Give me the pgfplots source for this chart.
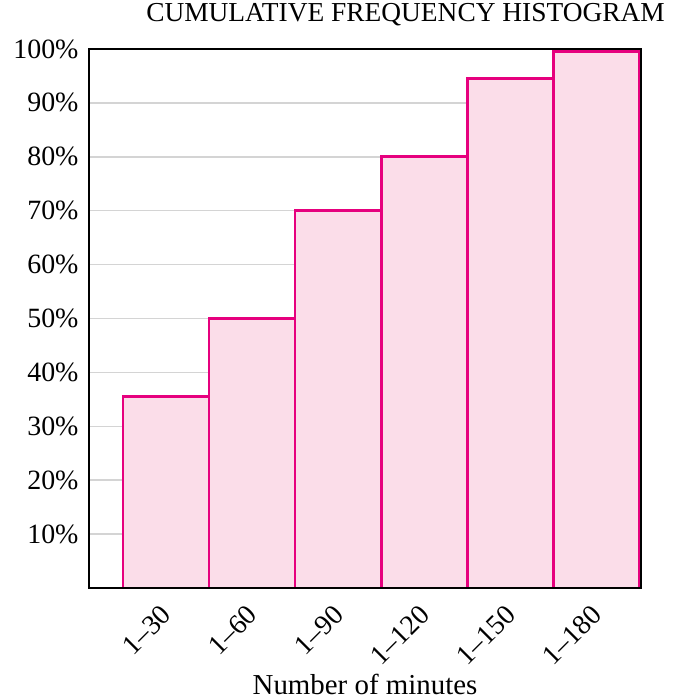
\documentclass[border=0pt]{standalone}
\usepackage{fontspec}
\setmainfont{Liberation Serif}
\usepackage{pgfplots}
\pgfplotsset{compat=1.18}
\definecolor{barline}{RGB}{230,0,126}
\definecolor{barfill}{RGB}{251,221,233}
\definecolor{gridgray}{RGB}{212,212,212}

\begin{document}
\begin{tikzpicture}
% frame the page like the reference (673 x 700)
\path[use as bounding box] (-89bp,-112bp) rectangle (584bp,588bp);
\begin{axis}[
  at={(0,0)}, anchor=south west,
  scale only axis, width=552bp, height=539bp,
  xmin=0.105, xmax=6.52, ymin=0, ymax=100,
  axis line style={black, line width=1.6bp},
  ytick={10,20,...,100},
  yticklabels={10\%,20\%,30\%,40\%,50\%,60\%,70\%,80\%,90\%,100\%},
  xtick={1,...,6},
  xticklabels={1--30,1--60,1--90,1--120,1--150,1--180},
  major tick length=0pt,
  ymajorgrids, grid style={gridgray, line width=1.5bp},
  tick label style={font=\fontsize{28}{33}\selectfont},
  y tick label style={xshift=-7bp},
  x tick label style={rotate=45, anchor=north east, xshift=-12bp, yshift=-3bp},
  title={CUMULATIVE FREQUENCY HISTOGRAM},
  title style={at={(1.0435,1)}, anchor=base east, yshift=22bp, inner sep=0pt,
    font=\fontsize{27.5}{32}\selectfont},
  xlabel={Number of minutes},
  xlabel style={at={(0.5,0)}, anchor=base, yshift=-106bp, inner sep=0pt,
    font=\fontsize{29}{34}\selectfont},
]
\addplot[ybar, bar width=1, bar shift=0pt, draw=barline, line width=2.8bp, fill=barfill]
  coordinates {(1,35.5) (2,50) (3,70) (4,80) (5,94.5) (6,99.6)};
% frame again above the bars
\draw[black, line width=1.6bp] (rel axis cs:0,0) rectangle (rel axis cs:1,1);
\end{axis}
\end{tikzpicture}
\end{document}
